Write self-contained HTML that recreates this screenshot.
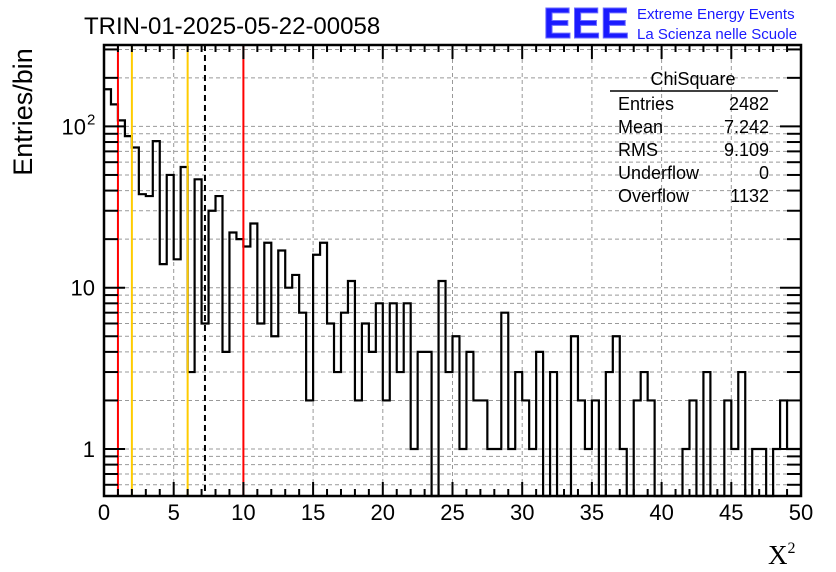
<!DOCTYPE html>
<html><head><meta charset="utf-8">
<style>
html,body{margin:0;padding:0;background:#fff;}
svg{display:block;font-family:"Liberation Sans",sans-serif;}
</style></head>
<body>
<svg id="chart" width="836" height="572" viewBox="0 0 836 572" xmlns="http://www.w3.org/2000/svg">
<g id="grid"></g>
<g id="marks"></g>
<g id="axes"></g>
<text x="84" y="34" font-size="24">TRIN-01-2025-05-22-00058</text>
<text x="543" y="38" font-size="44" font-weight="bold" fill="#1a1aff" stroke="#6a6aff" stroke-width="1" textLength="86" lengthAdjust="spacingAndGlyphs">EEE</text>
<text x="637" y="19" font-size="15" fill="#1a1aff">Extreme Energy Events</text>
<text x="637" y="39" font-size="15" fill="#1a1aff">La Scienza nelle Scuole</text>
<text transform="translate(32,112) rotate(-90)" text-anchor="middle" font-size="27">Entries/bin</text>
<text x="768" y="564" font-size="27" font-family="Liberation Serif, serif">X<tspan font-size="16" dy="-11">2</tspan></text>
<g font-size="18">
<text x="693" y="85" text-anchor="middle">ChiSquare</text>
<line x1="610" y1="91" x2="778" y2="91" stroke="#000" stroke-width="1.5"/>
<text x="618" y="110">Entries</text><text x="769" y="110" text-anchor="end">2482</text>
<text x="618" y="133">Mean</text><text x="769" y="133" text-anchor="end">7.242</text>
<text x="618" y="156">RMS</text><text x="769" y="156" text-anchor="end">9.109</text>
<text x="618" y="179">Underflow</text><text x="769" y="179" text-anchor="end">0</text>
<text x="618" y="202">Overflow</text><text x="769" y="202" text-anchor="end">1132</text>
</g>
</svg>
<script>
const counts = [170,137,109,87,74,38,37,81,14,50,15,56,3,47,6,30,37,4,22,20,
18,25,6,19,5,17,10,12,7,2,16,19,6,3,7,11,2,6,4,8,
2,8,3,8,1,4,4,0,11,3,5,1,4,2,2,1,1,7,1,3,
2,1,4,0,3,0,0,5,2,1,2,0,3,5,1,0,2,3,2,0,
0,0,0,1,2,0,3,0,0,2,1,3,0,1,1,0,1,2,1,1];
const xTicks = [0,5,10,15,20,25,30,35,40,45,50];
const yDecades = [1,10,100];
const yDecadeLabels = ["1","10","10"];
const yDecadeExps = ["","","2"];
const cutLines = [1,2,6,7.242,10];
const cutColors = ["#ff0000","#ffcc00","#ffcc00","#000","#ff0000"];

const NS="http://www.w3.org/2000/svg";
const L=104,R=801,T=45,B=496,XMIN=0,XMAX=50,YPX1=449,DEC=161.3;
const bw=0.5;
function xs(v){return L+(v-XMIN)/(XMAX-XMIN)*(R-L);}
function ys(v){if(v<=0)return B;const y=YPX1-DEC*Math.log10(v);return Math.max(T,Math.min(B,y));}
function mk(tag,attrs,parent){const e=document.createElementNS(NS,tag);for(const k in attrs)e.setAttribute(k,attrs[k]);parent.appendChild(e);return e;}
const grid=document.getElementById('grid'),marks=document.getElementById('marks'),axes=document.getElementById('axes');

for(let d=0.1;d<=1000;d*=10){
  for(let m=1;m<=9;m++){
    const v=d*m; const y=YPX1-DEC*Math.log10(v);
    if(y<T-0.5||y>B+0.5)continue;
    const g=mk('line',{x1:L,x2:R,y1:y,y2:y,stroke:'#999','stroke-dasharray':'4,3','stroke-width':1},grid);
    
    
    const len=m===1?21:14;
    mk('line',{x1:L,x2:L+len,y1:y,y2:y,stroke:'#000','stroke-width':2},axes);
    mk('line',{x1:R,x2:R-len,y1:y,y2:y,stroke:'#000','stroke-width':2},axes);
  }
}
yDecades.forEach((v,i)=>{
  const t=mk('text',{x:yDecadeExps[i]?86:95,y:ys(v)+8,'text-anchor':'end','font-size':22},axes);
  t.textContent=yDecadeLabels[i];
  
  
  if(yDecadeExps[i]){
    const s=mk('text',{x:87,y:ys(v)-2,'font-size':15},axes);
    s.textContent=yDecadeExps[i];
    
    
  }
});
for(let v=XMIN;v<=XMAX;v+=1){
  const x=xs(v); const major=v%5===0; const len=major?14:7;
  if(major&&v>XMIN&&v<XMAX){
    const g=mk('line',{x1:x,x2:x,y1:T,y2:B,stroke:'#999','stroke-dasharray':'4,3','stroke-width':1},grid);
    
    
  }
  mk('line',{x1:x,x2:x,y1:B,y2:B-len,stroke:'#000','stroke-width':2},axes);
  mk('line',{x1:x,x2:x,y1:T,y2:T+len,stroke:'#000','stroke-width':2},axes);
}
xTicks.forEach(v=>{
  const t=mk('text',{x:xs(v),y:520,'text-anchor':'middle','font-size':22},axes);
  t.textContent=String(v);
  
  
});
let d='M'+xs(0)+' '+ys(counts[0]);
counts.forEach((c,i)=>{
  const y=ys(c);
  if(i>0)d+=' L'+xs(i*bw)+' '+y;
  d+=' L'+xs((i+1)*bw)+' '+y;
});
const h=mk('path',{d:d,fill:'none',stroke:'#000','stroke-width':2.2},marks);


cutLines.forEach((v,i)=>{
  const a={x1:xs(v),x2:xs(v),y1:T,y2:B,stroke:cutColors[i],'stroke-width':2};
  if(i===3)a['stroke-dasharray']='6,4';
  const l=mk('line',a,marks);
  
  
});
const f=mk('rect',{x:L,y:T,width:R-L,height:B-T,fill:'none',stroke:'#000','stroke-width':2.5},axes);


</script>
</body></html>
